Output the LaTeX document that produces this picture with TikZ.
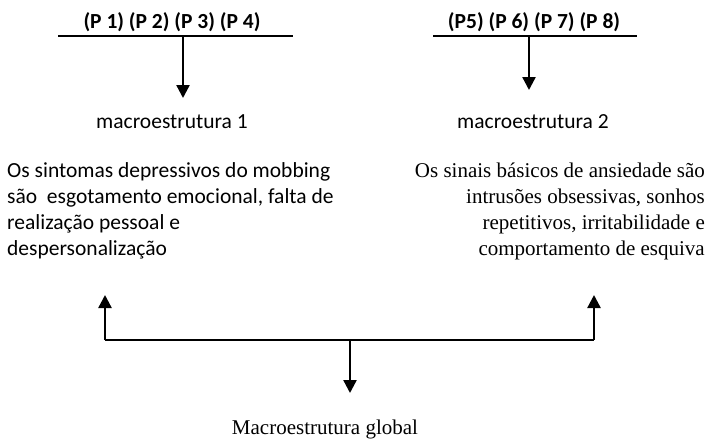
\documentclass[tikz,border=0pt]{standalone}
\usepackage{fontspec}
\setmainfont{Liberation Serif}
\newfontfamily\calib{Carlito}
\usetikzlibrary{arrows.meta}
\begin{document}
\begin{tikzpicture}[x=1pt,y=-1pt,
  cal/.style={font=\calib\fontsize{21.5}{26}\selectfont, inner sep=0pt},
  calb/.style={font=\calib\bfseries\fontsize{21.5}{26}\selectfont, inner sep=0pt, anchor=base},
  tms/.style={font=\fontsize{21}{26}\selectfont, inner sep=0pt},
  hline/.style={line width=1.6pt},
  arr/.style={line width=2.4pt, -{Triangle[width=13pt,length=13pt]}}]
\useasboundingbox (0,0) rectangle (708,440);
% top left
\node[calb] (p1) at (172,28) {(P 1) (P 2) (P 3) (P 4)};
\coordinate (l1a) at (58,36);
\coordinate (l1b) at (293,36);
\coordinate (t1s) at (183,36);
\coordinate (t1e) at (183,98);
\draw[hline] (l1a) -- (l1b);
\draw[arr] (t1s) -- (t1e);
\node[cal, anchor=base] (m1) at (172,128) {macroestrutura 1};
% top right
\node[calb] (p2) at (534,28) {(P5) (P 6) (P 7) (P 8)};
\coordinate (l2a) at (433,36);
\coordinate (l2b) at (637,36);
\coordinate (t2s) at (529,36);
\coordinate (t2e) at (529,90);
\draw[hline] (l2a) -- (l2b);
\draw[arr] (t2s) -- (t2e);
\node[cal, anchor=base] (m2) at (533,128) {macroestrutura 2};
% paragraphs (base anchor = last line)
\node[cal, anchor=base west, align=left] (d1) at (7,255)
  {Os sintomas depressivos do mobbing\\
   são\ \ esgotamento emocional, falta de\\
   realização pessoal e\\
   despersonalização};
\node[tms, anchor=base east, align=right] (d2) at (705,255)
  {Os sinais básicos de ansiedade são\\
   intrusões obsessivas, sonhos\\
   repetitivos, irritabilidade e\\
   comportamento de esquiva};
% bottom
\coordinate (bl) at (105,340);
\coordinate (br) at (594,340);
\coordinate (bm) at (350,340);
\coordinate (ul) at (105,295);
\coordinate (ur) at (594,295);
\coordinate (dm) at (350,393);
\draw[hline] (bl) -- (br);
\draw[arr] (bl) -- (ul);
\draw[arr] (br) -- (ur);
\draw[arr] (bm) -- (dm);
\node[tms, anchor=base] (g) at (325,434) {Macroestrutura global};
\end{tikzpicture}
\end{document}
